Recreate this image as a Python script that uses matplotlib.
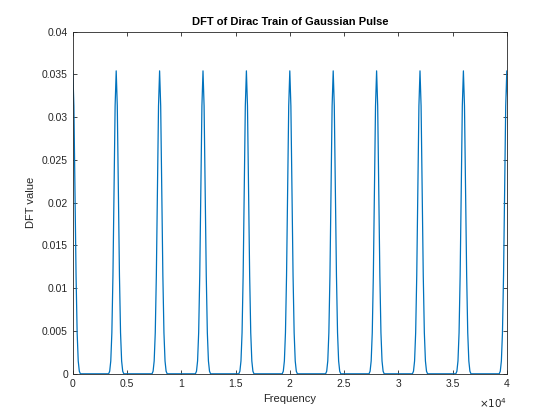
import numpy as np
import matplotlib.pyplot as plt
from matplotlib.ticker import FuncFormatter

# peak centres (Hz) and one pulse profile
peak_centres = [0, 4000, 8000, 12000, 16000, 20000, 24000, 28000, 32000, 36000, 40000]
pulse_offsets = [-700, -600, -500, -400, -300, -200, -100, 0, 100, 200, 300, 400, 500, 600, 700]
pulse_values = [0.0, 0.0003, 0.0015, 0.0048, 0.0115, 0.0215, 0.0313, 0.0354,
                0.0313, 0.0215, 0.0115, 0.0048, 0.0015, 0.0003, 0.0]

xs = []
ys = []
for c in peak_centres:
    for o, v in zip(pulse_offsets, pulse_values):
        xs.append(c + o)
        ys.append(v)
xs = np.array(xs)
ys = np.array(ys)

plt.rcParams['font.family'] = ['Liberation Sans', 'DejaVu Sans']
fig = plt.figure(figsize=(5.6, 4.2), dpi=100)
ax = fig.add_axes([0.13, 0.11, 0.775, 0.815])
ax.plot(xs, ys, color='#0072BD', linewidth=0.9)

ax.set_xlim(0, 40000)
ax.set_ylim(0, 0.04)
ax.set_xticks(np.arange(0, 40001, 5000))
ax.set_yticks(np.arange(0, 0.0401, 0.005))
ax.xaxis.set_major_formatter(FuncFormatter(lambda v, p: f'{v / 1e4:g}'))
ax.yaxis.set_major_formatter(FuncFormatter(lambda v, p: f'{v:g}'))
ax.tick_params(direction='in', length=3, width=0.6, labelsize=7.5,
               colors='#262626', top=True, right=True)
for s in ax.spines.values():
    s.set_linewidth(0.6)
    s.set_color('#262626')

ax.text(1.0, -0.065, r'$\times10^{4}$', transform=ax.transAxes, ha='right', va='top',
        fontsize=7.5, color='#262626')
ax.set_xlabel('Frequency', fontsize=8, color='#262626', labelpad=4)
ax.set_ylabel('DFT value', fontsize=8, color='#262626')
ax.set_title('DFT of Dirac Train of Gaussian Pulse', fontsize=8, fontweight='bold', pad=5)

fig.savefig('out.png', dpi=100)
